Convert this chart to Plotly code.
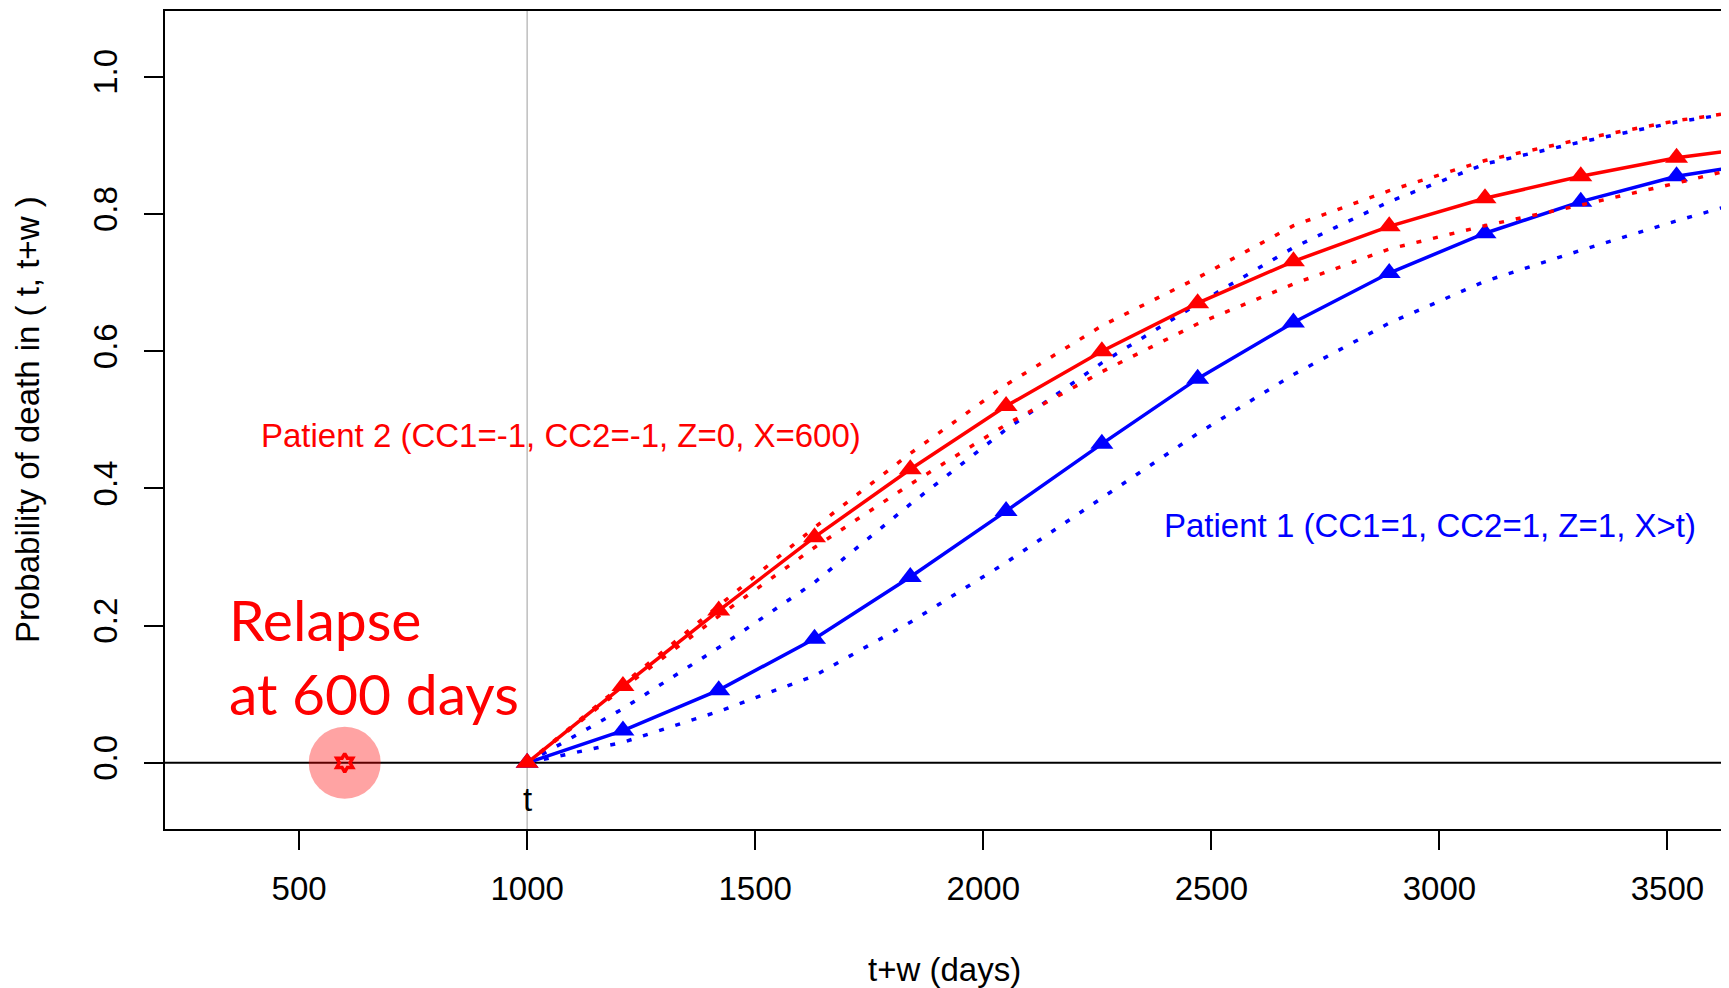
import plotly.graph_objects as go

# ---------------- data ----------------
days = [1000, 1210, 1420, 1630, 1840, 2050, 2260, 2470, 2680, 2890, 3100, 3310, 3520, 3624]
marker_days = [1000, 1210, 1420, 1630, 1840, 2050, 2260, 2470, 2680, 2890, 3100, 3310, 3520]

# Patient 1 (blue)
p1_est = [0, 0.047, 0.106, 0.181, 0.271, 0.367, 0.465, 0.560, 0.642, 0.714, 0.772, 0.818, 0.855, 0.866]
p1_upper = [0, 0.079, 0.168, 0.263, 0.377, 0.486, 0.583, 0.669, 0.751, 0.818, 0.873, 0.905, 0.934, 0.945]
p1_lower = [0, 0.030, 0.075, 0.127, 0.205, 0.292, 0.386, 0.480, 0.566, 0.641, 0.702, 0.747, 0.790, 0.810]

# Patient 2 (red)
p2_est = [0, 0.112, 0.222, 0.329, 0.428, 0.520, 0.600, 0.670, 0.731, 0.782, 0.823, 0.855, 0.882, 0.891]
p2_upper = [0, 0.115, 0.229, 0.343, 0.451, 0.551, 0.637, 0.707, 0.783, 0.834, 0.878, 0.909, 0.936, 0.946]
p2_lower = [0, 0.109, 0.214, 0.314, 0.406, 0.493, 0.570, 0.640, 0.698, 0.749, 0.783, 0.813, 0.845, 0.862]

relapse_day = [600]
relapse_prob = [0.0]
landmark_t = 1000

x_ticks = [500, 1000, 1500, 2000, 2500, 3000, 3500]
y_ticks = [0.0, 0.2, 0.4, 0.6, 0.8, 1.0]
y_tick_text = ["0.0", "0.2", "0.4", "0.6", "0.8", "1.0"]

label_p2 = "Patient 2 (CC1=-1, CC2=-1, Z=0, X=600)"
label_p1 = "Patient 1 (CC1=1, CC2=1, Z=1, X>t)"

# ---------------- styles ----------------
RED = "#FF0000"
BLUE = "#0000FF"
FONT = "Liberation Sans, Arial, sans-serif"
FS = 33
DOT = "5px,12px"
LW = 3.5


def pmarkers(est):
    return est[:len(marker_days)]


fig = go.Figure()

# pink highlight of the relapse time
fig.add_trace(go.Scatter(x=relapse_day, y=relapse_prob, mode="markers",
                         marker=dict(size=72, color="rgba(255,0,0,0.36)", line=dict(width=0)),
                         hoverinfo="skip", showlegend=False))

# Patient 1 confidence bands (blue dotted)
for band in (p1_upper, p1_lower):
    fig.add_trace(go.Scatter(x=days, y=band, mode="lines",
                             line=dict(color=BLUE, width=LW, dash=DOT), showlegend=False))
# Patient 1 estimate
fig.add_trace(go.Scatter(x=days, y=p1_est, mode="lines",
                         line=dict(color=BLUE, width=LW), showlegend=False))
fig.add_trace(go.Scatter(x=marker_days, y=pmarkers(p1_est), mode="markers",
                         marker=dict(symbol="triangle-up", size=20, color=BLUE), showlegend=False))

# Patient 2 confidence bands (red dotted)
for band in (p2_upper, p2_lower):
    fig.add_trace(go.Scatter(x=days, y=band, mode="lines",
                             line=dict(color=RED, width=LW, dash=DOT), showlegend=False))
# Patient 2 estimate
fig.add_trace(go.Scatter(x=days, y=p2_est, mode="lines",
                         line=dict(color=RED, width=LW), showlegend=False))
fig.add_trace(go.Scatter(x=marker_days, y=pmarkers(p2_est), mode="markers",
                         marker=dict(symbol="triangle-up", size=20, color=RED), showlegend=False))

# relapse point
fig.add_trace(go.Scatter(x=relapse_day, y=relapse_prob, mode="markers",
                         marker=dict(symbol="hexagram-open", size=14, color=RED, line=dict(width=3.5, color=RED)),
                         showlegend=False))

# reference lines
fig.add_shape(type="line", xref="x", yref="paper", x0=landmark_t, x1=landmark_t, y0=0, y1=1,
              line=dict(color="#BEBEBE", width=1.5), layer="below")
fig.add_shape(type="line", xref="paper", yref="y", x0=0, x1=1, y0=0, y1=0,
              line=dict(color="#000000", width=2), layer="below")

# text annotations
fig.add_annotation(x=413, y=0.4765, xref="x", yref="y", text=label_p2, showarrow=False,
                   xanchor="left", yanchor="middle", font=dict(family=FONT, size=FS, color=RED))
fig.add_annotation(x=2392, y=0.3457, xref="x", yref="y", text=label_p1, showarrow=False,
                   xanchor="left", yanchor="middle", font=dict(family=FONT, size=FS, color=BLUE))
fig.add_annotation(x=landmark_t, y=0, xref="x", yref="y", text="t", showarrow=False,
                   xanchor="center", yanchor="middle", yshift=-37,
                   font=dict(family=FONT, size=FS, color="#000000"))
fig.add_annotation(x=343, y=0.2097, xref="x", yref="y", text="Relapse", showarrow=False,
                   xanchor="left", yanchor="middle", font=dict(family="Lato", size=57, color=RED))
fig.add_annotation(x=343, y=0.1014, xref="x", yref="y", text="at 600 days", showarrow=False,
                   xanchor="left", yanchor="middle", font=dict(family="Lato", size=57, color=RED))

# axis titles
fig.add_annotation(x=0.5, y=0, xref="paper", yref="paper", text="t+w (days)", showarrow=False,
                   xanchor="center", yanchor="middle", yshift=-140,
                   font=dict(family=FONT, size=FS, color="#000000"))
fig.add_annotation(x=0, y=0.5, xref="paper", yref="paper", text="Probability of death in ( t, t+w )",
                   showarrow=False, textangle=-90, xanchor="center", yanchor="middle", xshift=-138,
                   font=dict(family=FONT, size=FS, color="#000000"))

# the page body adds an 8px offset, so the figure is 8px smaller and margins compensate
fig.update_layout(
    width=1721, height=980,
    margin=dict(l=157, r=5, t=1, b=159),
    paper_bgcolor="white", plot_bgcolor="white",
    showlegend=False,
    font=dict(family=FONT, size=FS, color="#000000"),
    xaxis=dict(range=[206, 3624], tickmode="array", tickvals=x_ticks,
               ticks="outside", ticklen=19, tickwidth=2, tickcolor="#000000",
               showline=True, mirror=True, linecolor="#000000", linewidth=2,
               showgrid=False, zeroline=False, ticklabelstandoff=10,
               tickfont=dict(family=FONT, size=FS, color="#000000")),
    yaxis=dict(range=[-0.0964, 1.0959], tickmode="array", tickvals=y_ticks, ticktext=y_tick_text,
               ticks="outside", ticklen=19, tickwidth=2, tickcolor="#000000",
               showline=True, mirror=True, linecolor="#000000", linewidth=2,
               showgrid=False, zeroline=False, tickangle=-90, ticklabelstandoff=14,
               tickfont=dict(family=FONT, size=FS, color="#000000")),
)

fig.write_html("out.html")
